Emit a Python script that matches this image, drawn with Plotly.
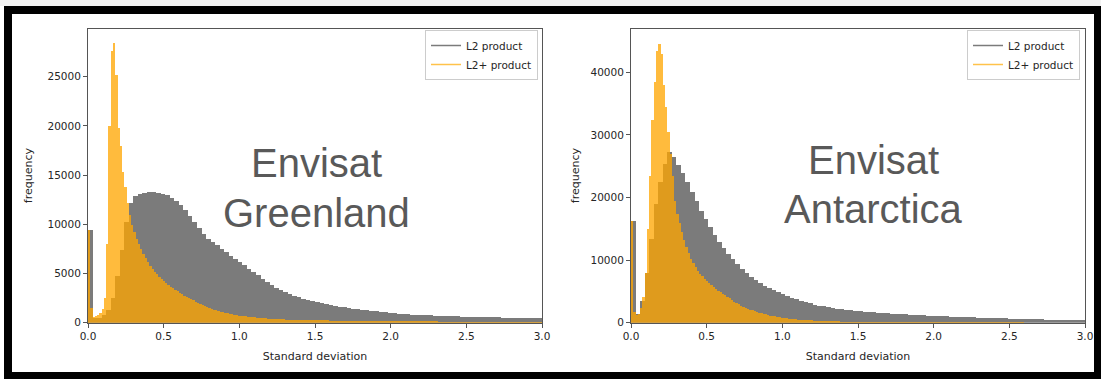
import numpy as np
import plotly.graph_objects as go

W, H = 1101, 379

# ---------------- data ----------------
# L2 product (gray) histogram counts, bin width 0.03 from 0 to 3.0
gl_l2_counts = [
    9500, 500, 550, 800, 1300, 2600, 4800, 7400, 10300, 12200,
    12900, 13150, 13250, 13300, 13300, 13250, 13150, 13000, 12750, 12450,
    12000, 11500, 10900, 10300, 9700, 9100, 8600, 8250, 7900, 7550,
    7200, 6850, 6550, 6250, 5900, 5550, 5200, 4850, 4500, 4150,
    3850, 3600, 3350, 3150, 2950, 2780, 2620, 2480, 2350, 2250,
    2150, 2050, 1950, 1850, 1750, 1670, 1600, 1530, 1470, 1400,
    1350, 1300, 1250, 1200, 1150, 1100, 1060, 1020, 980, 940,
    900, 870, 850, 830, 810, 790, 770, 750, 730, 710,
    700, 690, 680, 670, 660, 650, 640, 630, 620, 600,
    580, 560, 550, 540, 530, 520, 510, 505, 500, 495,
]
# L2+ product (orange) histogram counts, bin width 0.015 from 0 to 3.0
gl_l2p_counts = [
    9500, 1500, 600, 700, 800, 1000, 1400, 2600, 8000, 20000,
    27700, 28500, 25200, 19800, 18000, 15400, 13800, 12200, 11000, 10000,
    9300, 8600, 8000, 7500, 7000, 6600, 6200, 5850, 5500, 5200,
    4950, 4700, 4500, 4300, 4100, 3900, 3700, 3550, 3400, 3250,
    3100, 2950, 2800, 2680, 2550, 2430, 2320, 2200, 2100, 2000,
    1880, 1760, 1650, 1550, 1450, 1370, 1300, 1230, 1170, 1110,
    1050, 1000, 950, 900, 860, 820, 780, 750, 720, 690,
    660, 635, 610, 590, 570, 550, 530, 510, 490, 470,
    455, 440, 425, 410, 400, 390, 380, 370, 360, 350,
    340, 335, 330, 325, 320, 315, 310, 305, 300, 295,
    290, 285, 282, 280, 277, 275, 272, 270, 268, 265,
    262, 260, 258, 255, 253, 250, 248, 246, 244, 242,
    240, 238, 236, 234, 232, 230, 228, 226, 224, 222,
    220, 218, 216, 214, 212, 210, 208, 206, 204, 202,
    200, 198, 196, 194, 192, 190, 188, 186, 184, 182,
    180, 178, 176, 174, 172, 170, 168, 166, 164, 162,
    160, 158, 157, 156, 155, 154, 153, 152, 151, 150,
    149, 148, 147, 146, 145, 144, 143, 142, 141, 140,
    139, 138, 137, 136, 135, 134, 133, 132, 131, 130,
    129, 128, 127, 126, 125, 124, 123, 122, 121, 120,
]
an_l2_counts = [
    16300, 1500, 3500, 8000, 13500, 19000, 22500, 25500, 27300, 26500,
    25300, 24000, 22600, 21000, 19500, 18000, 16600, 15300, 14100, 13000,
    12000, 11000, 10200, 9400, 8700, 8000, 7400, 6900, 6400, 6000,
    5600, 5250, 4950, 4650, 4350, 4050, 3800, 3550, 3350, 3150,
    2980, 2820, 2680, 2550, 2430, 2320, 2220, 2130, 2050, 1980,
    1910, 1850, 1790, 1730, 1680, 1630, 1580, 1530, 1490, 1450,
    1410, 1370, 1330, 1290, 1250, 1220, 1190, 1160, 1130, 1100,
    1070, 1040, 1010, 980, 950, 920, 890, 860, 840, 820,
    800, 780, 760, 740, 720, 700, 680, 660, 640, 620,
    600, 590, 580, 570, 560, 550, 540, 530, 520, 510,
]
an_l2p_counts = [
    16300, 1800, 1300, 1500, 2500, 4200, 8000, 15000, 23500, 32500,
    38500, 43500, 44600, 43000, 38000, 34500, 30500, 27000, 23500, 19500,
    17500, 16000, 14500, 13300, 12200, 11200, 10300, 9600, 9000, 8400,
    7900, 7500, 7100, 6700, 6400, 6100, 5800, 5500, 5200, 4950,
    4700, 4450, 4200, 3950, 3700, 3450, 3200, 3000, 2800, 2620,
    2460, 2310, 2170, 2040, 1920, 1800, 1690, 1590, 1490, 1400,
    1310, 1230, 1150, 1080, 1010, 950, 890, 840, 790, 745,
    700, 660, 625, 590, 560, 530, 505, 480, 460, 440,
    420, 400, 385, 370, 355, 340, 328, 316, 305, 295,
    285, 276, 268, 260, 252, 245, 238, 232, 226, 220,
    215, 212, 210, 208, 206, 204, 202, 200, 198, 196,
    194, 192, 190, 188, 186, 184, 182, 180, 178, 176,
    174, 172, 170, 168, 166, 164, 162, 160, 158, 156,
    155, 154, 153, 152, 151, 150, 149, 148, 147, 146,
    145, 144, 143, 142, 141, 140, 139, 138, 137, 136,
    135, 134, 133, 132, 131, 130, 129, 128, 127, 126,
    125, 124, 123, 122, 121, 120, 119, 118, 117, 116,
    115, 114, 113, 112, 111, 110, 109, 108, 107, 106,
    105, 104, 103, 102, 101, 100, 100, 100, 100, 100,
    100, 100, 100, 100, 100, 100, 100, 100, 100, 100,
]
l2_bin_width = 0.03
l2p_bin_width = 0.015
series_names = ["L2 product", "L2+ product"]
x_ticks = [0.0, 0.5, 1.0, 1.5, 2.0, 2.5, 3.0]
gl_y_ticks = [0, 5000, 10000, 15000, 20000, 25000]
an_y_ticks = [0, 10000, 20000, 30000, 40000]
titles = [("Envisat", "Greenland"), ("Envisat", "Antarctica")]

# ---------------- style ----------------
GRAY = "#7b7b7b"
ORANGE = "rgba(255,165,0,0.76)"
ORANGE_LEG = "#ffc24a"
TEXT = "#262626"
AX = "#555555"


def centers(counts, width):
    return (np.arange(len(counts)) + 0.5) * width


def px(x):
    return x / W


def py(y):
    return 1 - y / H


fig = go.Figure()

panels = [
    dict(l2=gl_l2_counts, l2p=gl_l2p_counts, xa="x", ya="y", leg="legend"),
    dict(l2=an_l2_counts, l2p=an_l2p_counts, xa="x2", ya="y2", leg="legend2"),
]
for p in panels:
    fig.add_trace(go.Bar(x=centers(p["l2"], l2_bin_width), y=p["l2"], width=l2_bin_width,
                         marker=dict(color=GRAY, line=dict(width=0)), showlegend=False,
                         xaxis=p["xa"], yaxis=p["ya"], hoverinfo="skip"))
    fig.add_trace(go.Bar(x=centers(p["l2p"], l2p_bin_width), y=p["l2p"], width=l2p_bin_width,
                         marker=dict(color=ORANGE, line=dict(width=0)), showlegend=False,
                         xaxis=p["xa"], yaxis=p["ya"], hoverinfo="skip"))
    fig.add_trace(go.Scatter(x=[None], y=[None], mode="lines", name=series_names[0],
                             line=dict(color=GRAY, width=1.5), xaxis=p["xa"], yaxis=p["ya"],
                             legend=p["leg"]))
    fig.add_trace(go.Scatter(x=[None], y=[None], mode="lines", name=series_names[1],
                             line=dict(color=ORANGE_LEG, width=1.5), xaxis=p["xa"], yaxis=p["ya"],
                             legend=p["leg"]))

ydom = [py(322.7), py(28.5)]
axis_common = dict(showline=True, linecolor=AX, linewidth=1, mirror=True, ticks="outside",
                   ticklen=4, tickcolor=AX, showgrid=False, zeroline=False, automargin=False,
                   tickfont=dict(family="DejaVu Sans", size=10.5, color=TEXT))
title_font = dict(family="DejaVu Sans", size=11, color=TEXT)
fig.update_layout(
    width=W, height=H, autosize=False,
    margin=dict(l=0, r=0, t=0, b=0, pad=0),
    paper_bgcolor="white", plot_bgcolor="white",
    barmode="overlay", bargap=0,
    xaxis=dict(domain=[px(88), px(542)], range=[0, 3.0], tickvals=x_ticks, tickformat=".1f",
               title=dict(text="Standard deviation", standoff=11, font=title_font),
               anchor="y", **axis_common),
    yaxis=dict(domain=ydom, range=[0, 29890], tickvals=gl_y_ticks, tickformat="d",
               title=dict(text="frequency", standoff=12, font=title_font),
               anchor="x", **axis_common),
    xaxis2=dict(domain=[px(631), px(1085)], range=[0, 3.0], tickvals=x_ticks, tickformat=".1f",
                title=dict(text="Standard deviation", standoff=11, font=title_font),
                anchor="y2", **axis_common),
    yaxis2=dict(domain=ydom, range=[0, 46990], tickvals=an_y_ticks, tickformat="d",
                title=dict(text="frequency", standoff=8, font=title_font),
                anchor="x2", **axis_common),
    legend=dict(x=px(538), y=py(30), xanchor="right", yanchor="top", bgcolor="white",
                bordercolor="#cccccc", borderwidth=1,
                font=dict(family="DejaVu Sans", size=10.5, color=TEXT)),
    legend2=dict(x=px(1080), y=py(30), xanchor="right", yanchor="top", bgcolor="white",
                 bordercolor="#cccccc", borderwidth=1,
                 font=dict(family="DejaVu Sans", size=10.5, color=TEXT)),
)

# big overlay labels
lab_font = dict(family="Liberation Sans", size=40, color="#595959")
for (l1, l2), cx, y1, y2 in [(titles[0], 316, 163, 213), (titles[1], 873, 160, 209)]:
    fig.add_annotation(text=l1, x=px(cx), y=py(y1), xref="paper", yref="paper",
                       showarrow=False, xanchor="center", yanchor="middle", font=lab_font)
    fig.add_annotation(text=l2, x=px(cx), y=py(y2), xref="paper", yref="paper",
                       showarrow=False, xanchor="center", yanchor="middle", font=lab_font)

# black picture frame
frame = [
    (0, 0, W, 6, "#f2f2f2"),
    (4, 6, W, 14, "black"),
    (4, 6, 12, H, "black"),
    (4, 372, W, H, "black"),
    (1094, 6, W, H, "black"),
]
for x0, y0, x1, y1, c in frame:
    fig.add_shape(type="rect", xref="paper", yref="paper", x0=px(x0), x1=px(x1),
                  y0=py(y1), y1=py(y0), fillcolor=c, line=dict(width=0), layer="above")

fig.write_html("out.html", config={"displayModeBar": False},
               post_script="document.body.style.margin='0px';document.body.style.overflow='hidden';")
